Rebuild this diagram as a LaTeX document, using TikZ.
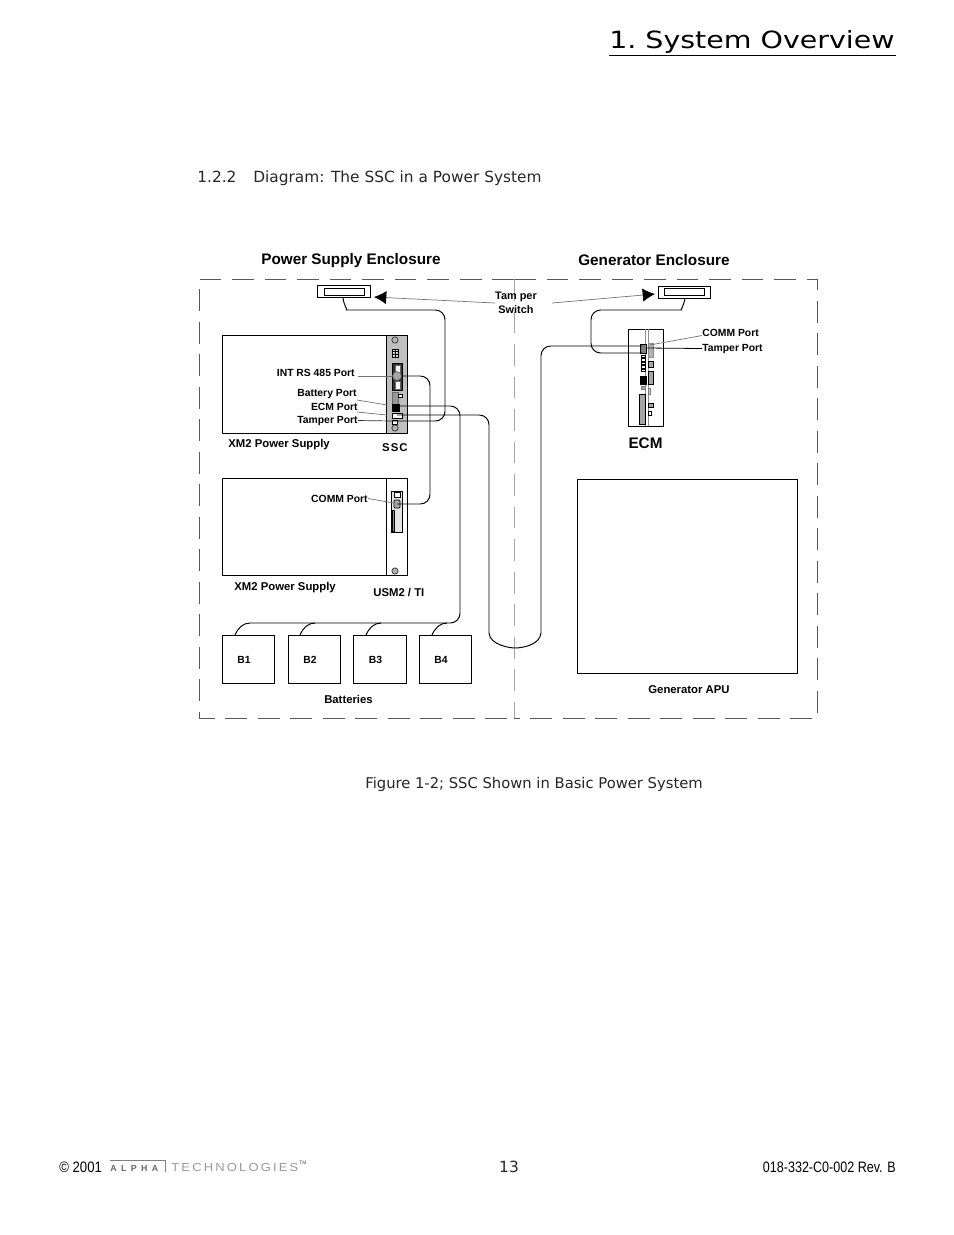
\documentclass[tikz,border=0pt]{standalone}
\usepackage{graphicx}
\usepackage{fontspec}
\usetikzlibrary{arrows.meta}
\setmainfont{Liberation Sans}
\newfontfamily\verdanafont{DejaVu Sans}
\newlength\px
\setlength\px{0.02cm}
\tikzset{
    box/.style={draw, line width=0.55pt, inner sep=0pt},
    port/.style={font=\bfseries\fontsize{5.9}{7}\selectfont, inner sep=0pt},
    wideport/.style={font=\bfseries\fontsize{6.45}{7}\selectfont, inner sep=0pt},
    title/.style={font=\bfseries\fontsize{8.7}{10}\selectfont, inner sep=0pt},
    page/.style={font=\verdanafont\fontsize{8.75}{10}\selectfont, inner sep=0pt, text=black!85},
    cable/.style={line width=0.55pt, rounded corners=5.5pt},
    lead/.style={draw=black!55, line width=0.4pt},
    wall/.style={draw=black!65, line width=0.45pt, dash pattern=on 12.5pt off 6pt},
    screw/.style={draw=black!80, fill=black!30, circle, minimum size=3.6pt, inner sep=0pt},
    panel/.style={fill=black!25, draw=black, line width=0.4pt},
    slot/.style={fill=white, draw=black, line width=0.35pt},
    part/.style={fill=black!35, draw=black, line width=0.35pt},
    pointer/.style={lead, -{Latex[length=7pt, width=7.5pt, color=black]}}
}
\begin{document}
\begin{tikzpicture}[x=0.02cm, y=-0.02cm]
    \useasboundingbox (0,0) rectangle (954,1235);

    % Page texts
    \node[anchor=base east, inner sep=0pt, font=\verdanafont\fontsize{13.5}{16}\selectfont] (head) at (895,48) {\scalebox{1.2}[1]{1.\ System Overview}};
    \draw[line width=0.55pt] (609,55) -- (896,55);
    \node[page, anchor=base west] (sect) at (197,182) {1.2.2};
    \node[page, anchor=base west] (sectname) at (253,182) {Diagram: The SSC in a Power System};
    \node[page, anchor=base west, font=\verdanafont\fontsize{8.4}{10}\selectfont] (caption) at (365,788) {Figure 1-2; SSC Shown in Basic Power System};
    \node[page, anchor=base] (pagenum) at (509,1172) {13};
    \node[anchor=base west, inner sep=0pt, font=\fontsize{8.6}{10}\selectfont] (copy) at (59,1172) {\scalebox{0.87}[1]{© 2001}};
    \node[anchor=base east, inner sep=0pt, font=\fontsize{8.6}{10}\selectfont] (docnum) at (896,1172) {\scalebox{0.83}[1]{018-332-C0-002 Rev. B}};
    \node[anchor=base west, inner sep=0pt, text=black!60, font=\bfseries\fontsize{5}{5}\selectfont] (logoa) at (110,1171) {A\hspace{2.5pt}L\hspace{2.5pt}P\hspace{2.5pt}H\hspace{2.5pt}A};
    \node[anchor=base west, inner sep=0pt, text=black!40, font=\fontsize{6.6}{7}\selectfont] (logob) at (171,1171) {\scalebox{1.12}[1]{T\,E\,C\,H\,N\,O\,L\,O\,G\,I\,E\,S}};
    \node[anchor=base west, inner sep=0pt, text=black!70, font=\fontsize{2.8}{3}\selectfont] (logoc) at (299,1164) {TM};
    \draw[black!50, line width=0.3pt] (110,1160) -- (165,1160) -- (165,1172);

    % Enclosures
    \draw[wall] (514,279) -- (199,279) -- (199,718) -- (514,718);
    \draw[wall] (514,279) -- (817.5,279) -- (817.5,718) -- (514,718);
    \draw[wall, draw=black!35] (514.5,279) -- (514.5,718);
    \node[title, anchor=base west] (psencl) at (261,264.5) {Power Supply Enclosure};
    \node[title, anchor=base west] (genencl) at (578,265) {Generator Enclosure};

    % Tamper switches
    \node[box, fill=white, minimum width=53\px, minimum height=12\px] (swL) at (343.5,291.5) {};
    \draw[line width=0.5pt] (324,288) rectangle (364,295);
    \node[box, fill=white, minimum width=52\px, minimum height=12\px] (swR) at (684,292) {};
    \draw[line width=0.5pt] (664,288) rectangle (704,295);
    \node[port, align=center, font=\bfseries\fontsize{6.2}{7.9}\selectfont] (tamper) at (516,303) {Tam per\\Switch};

    % Power supplies
    \node[box, minimum width=185\px, minimum height=98\px] (psuA) at (314.5,384) {};
    \draw[panel] (386,335) rectangle (407,433);
    \node[box, minimum width=185\px, minimum height=97\px] (psuB) at (314.5,527) {};
    \draw[line width=0.55pt] (386,479) -- (386,575);
    \node[screw] (screwA) at (395,340) {};
    \node[screw] (screwB) at (395,428) {};
    \node[screw] (screwC) at (395,571) {};

    % SSC panel
    \draw[fill=black!15, draw=black, line width=0.35pt] (392,349) rectangle (398,357);
    \draw[line width=0.3pt] (395,349) -- (395,357);
    \draw[line width=0.3pt] (392,351.7) -- (398,351.7);
    \draw[line width=0.3pt] (392,354.3) -- (398,354.3);
    \draw[fill=black!80, draw=black, line width=0.4pt] (392,363) rectangle (402,390);
    \draw[fill=white, draw=black!60] (395,365) rectangle (400,373);
    \draw[fill=white, draw=black!60] (395,381) rectangle (400,389);
    \node[screw, fill=black!35, draw=black!60, minimum size=5pt] (portInt) at (397,376) {};
    \draw[fill=black!40, draw=black!60, line width=0.3pt] (392,392) rectangle (398,404);
    \draw[slot] (398,394) rectangle (402,397.5);
    \foreach \y in {404,406.7,409.4} {
        \draw[fill=black, line width=0.2pt] (392,\y) rectangle (399,\y+1.8);
    }
    \draw[slot] (392,413) rectangle (402,418);
    \draw[slot] (392,420) rectangle (397,424);
    \coordinate (portBat) at (399,406);
    \coordinate (portEcm) at (397,415);
    \coordinate (portTam) at (393,421);

    % USM2 panel
    \draw[fill=black!10, draw=black, line width=0.5pt] (391,491) rectangle (402,532);
    \draw[slot] (394,492) rectangle (400,497);
    \draw[part, rounded corners=0.5pt] (394,500) rectangle (400,508);
    \draw[part, fill=black!45] (392,510) rectangle (394.5,531);
    \coordinate (portCom) at (397,504);

    % ECM
    \node[box, minimum width=35\px, minimum height=97\px] (ecm) at (645.5,377.5) {};
    \draw[black!45, line width=0.45pt] (645,329) -- (645,426);
    \draw[black!45, line width=0.45pt] (648,329) -- (648,426);
    \draw[part, fill=black!50, line width=0.5pt] (640,344) rectangle (646,353);
    \draw[fill=black!30, draw=black!45, line width=0.35pt] (648,343) rectangle (653,357);
    \foreach \y in {355,358.5,362,365.5,369} {
        \draw[slot] (641,\y) rectangle (645,\y+2.5);
    }
    \draw[part] (648,361) rectangle (653,367);
    \draw[part] (648,371) rectangle (653,384);
    \foreach \y in {376,379,382} {
        \draw[fill=black, line width=0.2pt] (640,\y) rectangle (646,\y+2);
    }
    \draw[part, draw=black!50] (641,386) rectangle (645,389);
    \draw[fill=black!20, draw=black!50, line width=0.3pt] (648,388) rectangle (650.5,394);
    \draw[part] (639,394) rectangle (645,424);
    \draw[part] (648,403) rectangle (653,407);
    \draw[slot] (648,411) rectangle (651,415);
    \coordinate (portEcmA) at (642,346);
    \coordinate (portEcmB) at (642,353);
    \coordinate (portEcmC) at (646,348);
    \coordinate (portEcmD) at (650,345);

    % Generator
    \node[box, minimum width=220.5\px, minimum height=194\px] (apu) at (687.3,576) {};

    % Batteries
    \node[box, minimum width=52.5\px, minimum height=48\px] (b1) at (248.3,659) {};
    \node[box, minimum width=52.5\px, minimum height=48\px] (b2) at (314.3,659) {};
    \node[box, minimum width=53.5\px, minimum height=48\px] (b3) at (379.8,659) {};
    \node[box, minimum width=52.5\px, minimum height=48\px] (b4) at (445.3,659) {};
    \node[port] (b1text) at (244,659.5) {B1};
    \node[port] (b2text) at (310,659.5) {B2};
    \node[port] (b3text) at (375.5,659.5) {B3};
    \node[port] (b4text) at (441,659.5) {B4};
    \node[wideport] (batt) at (348.5,699.5) {Batteries};
    \coordinate (b1in) at (235,635);
    \coordinate (b2in) at (300,635);
    \coordinate (b3in) at (366,635);
    \coordinate (b4in) at (432,635);

    % Labels
    \node[port, anchor=east] (intlbl) at (355,372.5) {INT RS 485 Port};
    \node[port, anchor=east] (batlbl) at (357,393.5) {Battery Port};
    \node[port, anchor=east] (ecmlbl) at (358,406.5) {ECM Port};
    \node[port, anchor=east] (tamlbl) at (358,420.5) {Tamper Port};
    \node[wideport, anchor=west] (xmA) at (228,444.5) {XM2 Power Supply};
    \node[wideport, anchor=east] (ssc) at (408,447.5) {S\hspace{0.6pt}S\hspace{0.6pt}C};
    \node[port, anchor=east] (comlbl) at (368,498.5) {COMM Port};
    \node[wideport, anchor=west] (xmB) at (234,587.5) {XM2 Power Supply};
    \node[wideport, anchor=west] (usm) at (373,592.5) {USM2 / TI};
    \node[port, anchor=west] (ecmcom) at (702,332.5) {COMM Port};
    \node[port, anchor=west] (ecmtam) at (702,348.5) {Tamper Port};
    \node[title, anchor=center] (ecmname) at (645.5,443) {ECM};
    \node[wideport] (apuname) at (689,689.5) {Generator APU};

    % Leaders
    \draw[lead] (358,376) -- (portInt);
    \draw[lead] (357,400) -- (387,405);
    \draw[lead] (357,412) -- (387,415);
    \draw[lead, draw=black!80] (tamlbl.east) -- (portTam);
    \draw[lead] (comlbl.east) -- (394,503);
    \draw[lead] (ecmcom.west) ++(0,3) -- (portEcmD);
    \draw[line width=0.45pt] (ecmtam.west) -- (portEcmC);
    \draw[pointer] (495,303) -- (374,297);
    \draw[pointer] (552,303) -- (655,294);

    % Cables
    \draw[cable] (343,298) .. controls (344,306) and (348,310) .. (356,310) -- (445,310) -- (445,421) -- (portTam);
    \draw[cable] (portInt) -- (430,376) -- (430,504) -- (portCom);
    \draw[cable] (portBat) -- (460,406) -- (460,623) -- (250,623);
    \draw[cable] (portEcm) -- (489,415) -- (489,633);
    \draw[line width=0.55pt] (489,633) .. controls (490,645) and (510,648) .. (515,648) .. controls (522,648) and (540,645) .. (541,633);
    \draw[cable] (541,633) -- (541,346) -- (portEcmA);
    \draw[cable] (685,298) .. controls (684,306) and (680,310) .. (672,310) -- (591,310) -- (591,353) -- (portEcmB);
    \draw[line width=0.55pt] (250,623) .. controls (243,623) and (238,628) .. (b1in);
    \draw[line width=0.55pt] (315,623) .. controls (308,623) and (303,628) .. (b2in);
    \draw[line width=0.55pt] (381,623) .. controls (374,623) and (369,628) .. (b3in);
    \draw[line width=0.55pt] (447,623) .. controls (440,623) and (435,628) .. (b4in);
\end{tikzpicture}
\end{document}
